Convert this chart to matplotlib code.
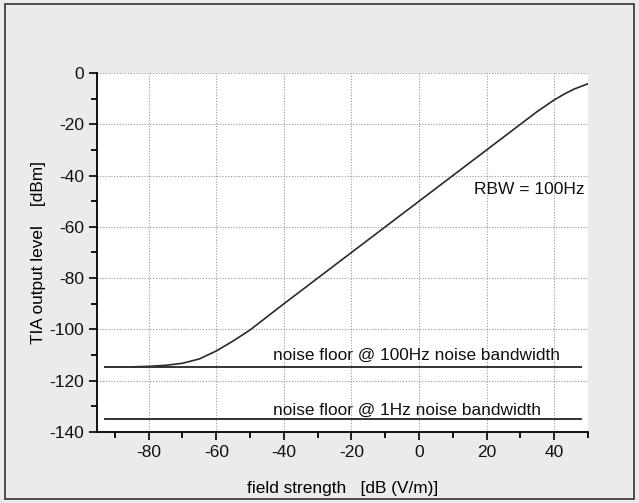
import matplotlib.pyplot as plt
from matplotlib.patches import Rectangle
from matplotlib.ticker import MultipleLocator

plt.rcParams["font.family"] = ["Liberation Sans", "DejaVu Sans"]
plt.rcParams["axes.unicode_minus"] = False

field = [-93, -85, -80, -75, -70, -65, -60, -55, -50, -40, -30, -20, -10,
         0, 10, 20, 30, 35, 40, 43, 46, 50]
level = [-114.6, -114.6, -114.4, -114.0, -113.2, -111.5, -108.4, -104.5,
         -100.2, -90, -80, -70, -60, -50, -40, -30, -20, -15, -10.5, -8.2,
         -6.2, -4.2]

floor_x = [-93, 48]
floor_100hz = [-114.7, -114.7]
floor_1hz = [-134.8, -134.8]

fig = plt.figure(figsize=(6.39, 5.03), dpi=100, facecolor="#ebebeb")
fig.patches.append(Rectangle((5 / 639, 4 / 503), 629 / 639, 495 / 503,
                             transform=fig.transFigure, fill=False,
                             edgecolor="#333333", lw=1.2))
ax = fig.add_axes([97 / 639, 1 - 432 / 503, 491 / 639, 359 / 503])

ax.plot(field, level, color="#2a2a2a", lw=1.2)
ax.plot(floor_x, floor_100hz, color="#333333", lw=1.4)
ax.plot(floor_x, floor_1hz, color="#333333", lw=1.4)

ax.text(-43.3, -110.3, "noise floor @ 100Hz noise bandwidth", fontsize=12.4,
        va="center", ha="left", color="#111111")
ax.text(-43.3, -131.7, "noise floor @ 1Hz noise bandwidth", fontsize=12.4,
        va="center", ha="left", color="#111111")
ax.text(16.4, -45.6, "RBW = 100Hz", fontsize=12.5, va="center", ha="left",
        color="#111111")

ax.set_xlim(-95.3, 50)
ax.set_ylim(-140, 0)
ax.set_xticks([-80, -60, -40, -20, 0, 20, 40])
ax.xaxis.set_minor_locator(MultipleLocator(10))
ax.yaxis.set_major_locator(MultipleLocator(20))
ax.yaxis.set_minor_locator(MultipleLocator(10))

ax.grid(True, which="major", ls=(0, (1, 1.5)), color="#999999", lw=0.8)
for s in ["top", "right"]:
    ax.spines[s].set_visible(False)
for s in ["left", "bottom"]:
    ax.spines[s].set_linewidth(1.3)
ax.tick_params(which="major", direction="out", length=6, width=1.3,
               labelsize=12.5, colors="#111111")
ax.tick_params(which="minor", direction="out", length=4, width=1.3)

ax.set_xlabel("field strength   [dB (V/m)]", fontsize=12.4, labelpad=15)
ax.set_ylabel("TIA output level    [dBm]", fontsize=12.4, labelpad=2)

fig.savefig("out.png", dpi=100, facecolor=fig.get_facecolor())
